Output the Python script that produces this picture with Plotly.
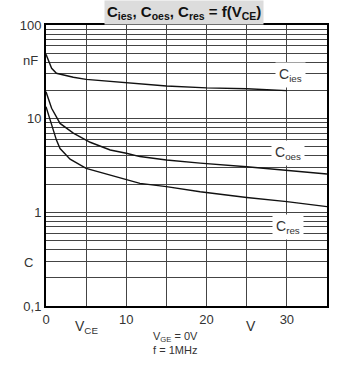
import plotly.graph_objects as go
import math

# Data
v_ies = [0, 0.7, 1.3, 3.4, 5, 8, 10, 15, 20, 25, 30]
c_ies = [48.7, 34.5, 30.5, 27.7, 26.3, 25.0, 24.2, 22.3, 21.3, 20.9, 19.9]

v_oes = [0, 0.7, 1.75, 3.4, 5.5, 8, 10, 11.7, 15, 19.2, 25, 30, 35]
c_oes = [19.4, 12.9, 8.9, 7.0, 5.6, 4.63, 4.27, 3.94, 3.62, 3.35, 3.07, 2.83, 2.57]

v_res = [0, 0.5, 0.9, 1.3, 1.75, 3, 5, 8, 10, 11.7, 15, 19.2, 25, 30, 35]
c_res = [13.4, 9.7, 7.56, 5.9, 4.8, 3.7, 2.95, 2.5, 2.21, 2.04, 1.88, 1.66, 1.44, 1.30, 1.15]

x_ticks = [0, 10, 20, 30]
x_labels = ["0", "10", "20", "30"]
x_minor = [5, 15, 25, 35]
y_ticks = [0.1, 1, 10, 100]
y_labels = ["0,1", "1", "10", "100"]
y_minor = [m * 10 ** e for e in (-1, 0, 1) for m in range(2, 10)]

FONT = "Liberation Sans, Arial, sans-serif"
TXT = "#333333"
GRID = "#444444"

fig = go.Figure()
for vx, cy in ((v_ies, c_ies), (v_oes, c_oes), (v_res, c_res)):
    fig.add_trace(go.Scatter(x=vx, y=cy, mode="lines",
                             line=dict(color="#111111", width=1.4),
                             showlegend=False, hoverinfo="skip"))

fig.update_layout(
    width=361, height=375,
    margin=dict(l=46, r=34, t=25, b=69),
    paper_bgcolor="white", plot_bgcolor="white",
    font=dict(family=FONT, size=13, color=TXT),
    xaxis=dict(range=[0, 35], tickvals=x_ticks, ticktext=x_labels,
               showgrid=True, gridcolor=GRID, gridwidth=1,
               minor=dict(tickvals=x_minor, showgrid=True, gridcolor=GRID, gridwidth=1, ticks=""),
               showline=True, linecolor="black", linewidth=2, mirror=True,
               ticks="", zeroline=False, tickfont=dict(size=13, color=TXT)),
    yaxis=dict(type="log", range=[-1, 2], tickvals=y_ticks, ticktext=y_labels,
               showgrid=True, gridcolor=GRID, gridwidth=1,
               minor=dict(tickvals=y_minor, showgrid=True, gridcolor=GRID, gridwidth=1, ticks=""),
               showline=True, linecolor="black", linewidth=2, mirror=True,
               ticks="", zeroline=False, tickfont=dict(size=13, color=TXT)),
)

ann = []
# title
ann.append(dict(text="<b>C<sub>ies</sub>, C<sub>oes</sub>, C<sub>res</sub> = f(V<sub>CE</sub>)</b>",
                xref="paper", yref="paper", x=0.49, y=1.0, yshift=13,
                xanchor="center", yanchor="middle", showarrow=False,
                bgcolor="#dcdcdc", borderpad=2,
                font=dict(size=15, color="#111111", family=FONT)))
# extra y labels
ann.append(dict(text="nF", xref="paper", yref="y", x=0, y=math.log10(42),
                xanchor="right", xshift=-6, showarrow=False,
                font=dict(size=13, color=TXT)))
ann.append(dict(text="C", xref="paper", yref="y", x=0, y=math.log10(0.29),
                xanchor="right", xshift=-11, showarrow=False,
                font=dict(size=13, color=TXT)))
# x axis labels
ann.append(dict(text="V<sub>CE</sub>", xref="x", yref="paper", x=5, y=0,
                yshift=-32, showarrow=False, font=dict(size=14, color=TXT)))
ann.append(dict(text="V", xref="x", yref="paper", x=25.5, y=0,
                yshift=-30, showarrow=False, font=dict(size=14, color=TXT)))
ann.append(dict(text="V<sub>GE</sub> = 0V<br>f = 1MHz", xref="paper", yref="paper",
                x=0.46, y=0, yshift=-52, showarrow=False, align="center",
                font=dict(size=11, color=TXT)))
# curve labels
for txt, vx, vy in (("C<sub>ies</sub>", 30.5, 29.2), ("C<sub>oes</sub>", 30.2, 4.31),
                    ("C<sub>res</sub>", 30.2, 0.70)):
    ann.append(dict(text=txt, xref="x", yref="y", x=vx, y=math.log10(vy),
                    showarrow=False, bgcolor="white", borderpad=3,
                    font=dict(size=14, color=TXT)))
fig.update_layout(annotations=ann)

fig.write_html("out.html", config={"displayModeBar": False},
               post_script="document.body.style.margin='0';")
